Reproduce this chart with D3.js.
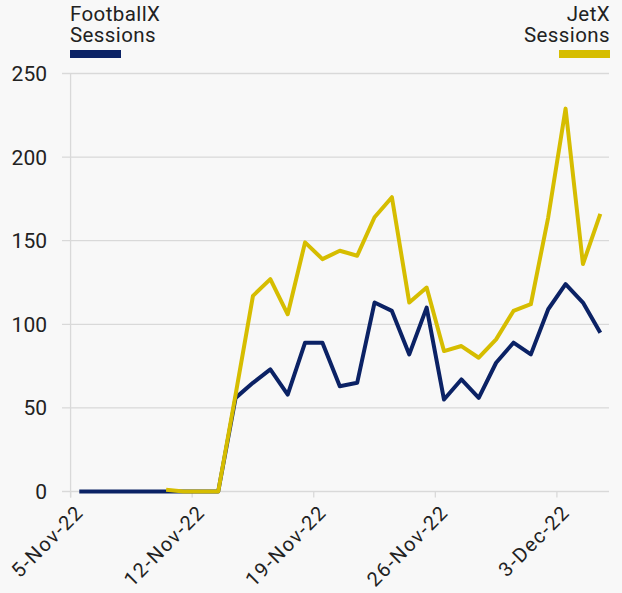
<!DOCTYPE html>
<html>
<head>
<meta charset="utf-8">
<script src="https://cdn.jsdelivr.net/npm/d3@7"></script>
<style>
  html, body { margin: 0; padding: 0; background: #f8f8f8; }
  svg { display: block; font-family: Roboto, "Noto Sans", sans-serif; }
</style>
</head>
<body>
<svg width="622" height="593"></svg>
<script>
// Daily dates (one point per day)
const dates = ['2022-11-05','2022-11-06','2022-11-07','2022-11-08','2022-11-09','2022-11-10','2022-11-11',
               '2022-11-12','2022-11-13','2022-11-14','2022-11-15','2022-11-16','2022-11-17','2022-11-18',
               '2022-11-19','2022-11-20','2022-11-21','2022-11-22','2022-11-23','2022-11-24','2022-11-25',
               '2022-11-26','2022-11-27','2022-11-28','2022-11-29','2022-11-30','2022-12-01','2022-12-02',
               '2022-12-03','2022-12-04','2022-12-05'];

const footballX = [0, 0, 0, 0, 0, 0, 0, 0, 0, 56, 65, 73, 58, 89, 89, 63, 65, 113, 108, 82, 110,
                   55, 67, 56, 77, 89, 82, 109, 124, 113, 95];

const jetX = [null, null, null, null, null, 1, 0, 0, 0, 58, 117, 127, 106, 149, 139, 144, 141, 164, 176, 113, 122,
              84, 87, 80, 91, 108, 112, 164, 229, 136, 166];

const yTicks = [0, 50, 100, 150, 200, 250];
const xTickDates = ['2022-11-05', '2022-11-12', '2022-11-19', '2022-11-26', '2022-12-03'];

const navy = '#0b2265',
      gold = '#d6bd00',
      grid = '#d9d9d9';

const parse = d3.utcParse('%Y-%m-%d');
const fmt = d3.utcFormat('%-d-%b-%y');

const svg = d3.select('svg');

// Scales: days sit between tick marks (point at noon)
const x = d3.scaleUtc()
  .domain([parse('2022-11-05'), parse('2022-12-06')])
  .range([70.6, 609]);
const y = d3.scaleLinear()
  .domain([0, 250])
  .range([491.5, 73.5]);

// Horizontal gridlines
svg.append('g')
  .selectAll('line')
  .data(yTicks)
  .enter()
  .append('line')
  .attr('x1', 62)
  .attr('x2', 609)
  .attr('y1', d => y(d))
  .attr('y2', d => y(d))
  .attr('stroke', grid)
  .attr('stroke-width', 1.3);

// Vertical axis line
svg.append('line')
  .attr('x1', x.range()[0]).attr('x2', x.range()[0])
  .attr('y1', y(250)).attr('y2', y(0) + 6)
  .attr('stroke', grid)
  .attr('stroke-width', 1.3);

// Y labels
svg.append('g')
  .selectAll('text')
  .data(yTicks)
  .enter()
  .append('text')
  .attr('x', 47)
  .attr('y', d => y(d))
  .attr('dy', '0.36em')
  .attr('text-anchor', 'end')
  .attr('font-size', 21)
  .attr('fill', '#222')
  .text(d => d);

// X ticks and rotated labels
const xg = svg.append('g');
xTickDates.forEach(function(s) {
  const px = x(parse(s));
  xg.append('line')
    .attr('x1', px).attr('x2', px)
    .attr('y1', y(0)).attr('y2', y(0) + 6)
    .attr('stroke', grid)
    .attr('stroke-width', 1.3);
  xg.append('text')
    .attr('transform', 'translate(' + (px + 9) + ',' + (y(0) + 17) + ') rotate(-45)')
    .attr('text-anchor', 'end')
    .attr('dy', '0.36em')
    .attr('font-size', 20)
    .attr('letter-spacing', 1.5)
    .attr('fill', '#222')
    .text(fmt(parse(s)));
});

// Lines
const line = d3.line()
  .defined(d => d.v != null)
  .x(d => x(d3.utcHour.offset(d.date, 12)))
  .y(d => y(d.v));

const series = [
  { values: footballX, color: navy },
  { values: jetX, color: gold }
];

series.forEach(function(s) {
  const pts = dates.map((d, i) => ({ date: parse(d), v: s.values[i] }));
  svg.append('path')
    .datum(pts)
    .attr('fill', 'none')
    .attr('stroke', s.color)
    .attr('stroke-width', 4)
    .attr('stroke-linejoin', 'round')
    .attr('d', line);
});

// Legend
const legend = [
  { lines: ['FootballX', 'Sessions'], color: navy, x: 70, anchor: 'start' },
  { lines: ['JetX', 'Sessions'], color: gold, x: 610, anchor: 'end' }
];
legend.forEach(function(l) {
  const t = svg.append('text')
    .attr('text-anchor', l.anchor)
    .attr('font-size', 20.5)
    .attr('letter-spacing', 0.4)
    .attr('fill', '#222');
  l.lines.forEach(function(s, i) {
    t.append('tspan').attr('x', l.x).attr('y', 21 + i * 21).text(s);
  });
  svg.append('rect')
    .attr('x', l.anchor === 'start' ? l.x : l.x - 51)
    .attr('y', 50)
    .attr('width', 51)
    .attr('height', 8)
    .attr('fill', l.color);
});
</script>
</body>
</html>
